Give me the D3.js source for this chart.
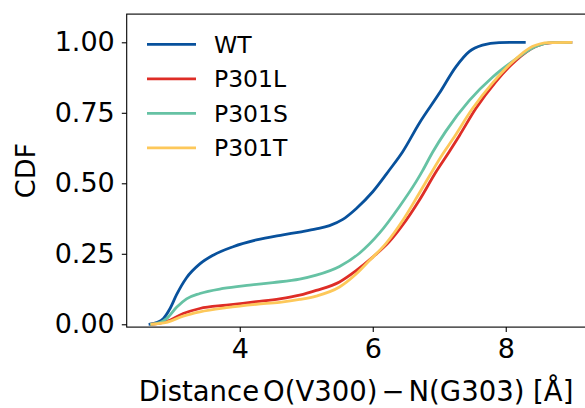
<!DOCTYPE html>
<html>
<head>
<meta charset="utf-8">
<script src="https://cdn.jsdelivr.net/npm/d3@7"></script>
<style>
  html, body { margin: 0; padding: 0; background: #fff; overflow: hidden; }
  svg { display: block; font-family: "DejaVu Sans", sans-serif; }
</style>
</head>
<body>
<svg id="chart" width="585" height="408"></svg>
<script>
// ---- data ----
const seriesNames = ["WT", "P301L", "P301S", "P301T"];
const seriesColors = ["#08519c", "#de2d26", "#66c2a4", "#fdc85a"];

const wtX = [2.63, 2.75, 2.85, 2.95, 3.05, 3.2, 3.4, 3.6, 3.9, 4.25, 4.65, 4.9, 5.15, 5.35, 5.55, 5.75, 6.0, 6.25, 6.45, 6.7, 7.0, 7.25, 7.45, 7.65, 7.9, 8.3];
const wtY = [0, 0.006, 0.02, 0.055, 0.105, 0.165, 0.214, 0.245, 0.275, 0.299, 0.317, 0.327, 0.338, 0.35, 0.372, 0.41, 0.47, 0.547, 0.612, 0.713, 0.819, 0.913, 0.967, 0.99, 0.999, 1.0];

const p301lX = [2.65, 2.8, 2.9, 3.15, 3.4, 3.8, 4.25, 4.6, 4.9, 5.15, 5.5, 5.75, 6.0, 6.25, 6.45, 6.7, 6.95, 7.15, 7.3, 7.55, 7.85, 8.15, 8.45, 8.7, 9.0];
const p301lY = [0, 0.004, 0.01, 0.038, 0.056, 0.068, 0.08, 0.09, 0.103, 0.12, 0.15, 0.19, 0.238, 0.293, 0.352, 0.44, 0.54, 0.612, 0.668, 0.765, 0.86, 0.935, 0.985, 0.999, 1.0];

const p301sX = [2.65, 2.8, 2.9, 3.05, 3.2, 3.4, 3.75, 4.15, 4.5, 4.9, 5.15, 5.5, 5.8, 6.1, 6.4, 6.65, 6.75, 6.9, 7.1, 7.45, 7.8, 8.15, 8.45, 8.7, 9.0];
const p301sY = [0, 0.006, 0.02, 0.06, 0.09, 0.109, 0.127, 0.139, 0.148, 0.16, 0.174, 0.205, 0.252, 0.323, 0.417, 0.505, 0.545, 0.61, 0.685, 0.793, 0.876, 0.94, 0.985, 0.999, 1.0];

const p301tX = [2.66, 2.8, 2.9, 3.15, 3.4, 3.8, 4.25, 4.6, 4.9, 5.15, 5.5, 5.75, 5.95, 6.2, 6.45, 6.65, 6.85, 7.05, 7.2, 7.5, 7.8, 8.1, 8.4, 8.65, 9.0];
const p301tY = [0, 0.003, 0.007, 0.029, 0.044, 0.059, 0.071, 0.078, 0.088, 0.1, 0.132, 0.178, 0.226, 0.287, 0.368, 0.445, 0.525, 0.603, 0.655, 0.765, 0.855, 0.93, 0.985, 0.999, 1.0];

const xTicks = [4, 6, 8];
const yTicks = [0, 0.25, 0.5, 0.75, 1.0];
const yTickLabels = ["0.00", "0.25", "0.50", "0.75", "1.00"];

// ---- layout ----
const svg = d3.select("#chart");
const mLeft = 126.7, mTop = 14.1, mBottom = 327.1;
const x = d3.scaleLinear().domain([2.3, 9.32]).range([mLeft, mLeft + 7.02 * 66.5]);
const y = d3.scaleLinear().domain([-0.01, 1.1]).range([mBottom, mTop]);
const mRight = x(9.32);

const series = [
  { name: seriesNames[0], color: seriesColors[0], xs: wtX, ys: wtY },
  { name: seriesNames[1], color: seriesColors[1], xs: p301lX, ys: p301lY },
  { name: seriesNames[2], color: seriesColors[2], xs: p301sX, ys: p301sY },
  { name: seriesNames[3], color: seriesColors[3], xs: p301tX, ys: p301tY }
];

const line = d3.line()
  .x(d => x(d[0]))
  .y(d => y(d[1]))
  .curve(d3.curveMonotoneX);

const plot = svg.append("g");
series.forEach(s => {
  const pts = s.xs.map((v, i) => [v, s.ys[i]]);
  plot.append("path")
    .attr("d", line(pts))
    .attr("fill", "none")
    .attr("stroke", s.color)
    .attr("stroke-width", 2.8)
    .attr("stroke-linejoin", "round")
    .attr("stroke-linecap", "butt");
});

// spines
svg.append("rect")
  .attr("x", mLeft).attr("y", mTop)
  .attr("width", mRight - mLeft).attr("height", mBottom - mTop)
  .attr("fill", "none").attr("stroke", "#000").attr("stroke-width", 1.1);

// axes
const xAxis = d3.axisBottom(x).tickValues(xTicks).tickSize(4.9).tickPadding(7).tickFormat(d3.format("d"));
const gx = svg.append("g").attr("transform", `translate(0,${mBottom})`).call(xAxis);
gx.select(".domain").remove();
gx.selectAll(".tick line").attr("stroke", "#000").attr("stroke-width", 1.1);
gx.selectAll(".tick text").attr("font-size", 27).attr("fill", "#000").attr("font-family", "DejaVu Sans");

const yAxis = d3.axisLeft(y).tickValues(yTicks).tickSize(4.9).tickPadding(7)
  .tickFormat((d, i) => yTickLabels[i]);
const gy = svg.append("g").attr("transform", `translate(${mLeft},0)`).call(yAxis);
gy.select(".domain").remove();
gy.selectAll(".tick line").attr("stroke", "#000").attr("stroke-width", 1.1);
gy.selectAll(".tick text").attr("font-size", 27).attr("fill", "#000").attr("font-family", "DejaVu Sans");

// axis labels
svg.append("text")
  .attr("transform", `translate(35,${(mTop + mBottom) / 2}) rotate(-90)`)
  .attr("text-anchor", "middle")
  .attr("font-size", 27)
  .attr("fill", "#000")
  .text("CDF");

const xl = svg.append("text")
  .attr("x", (mLeft + mRight) / 2 - 4)
  .attr("y", 401)
  .attr("text-anchor", "middle")
  .attr("font-size", 27.5)
  .attr("fill", "#000");
xl.append("tspan").text("Distance");
xl.append("tspan").attr("dx", 4).text("O(V300)");
xl.append("tspan").attr("dx", 4).text("\u2212");
xl.append("tspan").attr("dx", 4).text("N(G303) [\u00C5]");

// legend
const leg = svg.append("g");
const legRow0 = 44.3, legStep = 34.5;
series.forEach((s, i) => {
  const yy = legRow0 + i * legStep;
  leg.append("line")
    .attr("x1", 147).attr("x2", 196)
    .attr("y1", yy).attr("y2", yy)
    .attr("stroke", s.color).attr("stroke-width", 2.8);
  leg.append("text")
    .attr("x", 214).attr("y", yy)
    .attr("dy", "0.36em")
    .attr("font-size", 23.5)
    .attr("fill", "#000")
    .text(s.name);
});
</script>
</body>
</html>
